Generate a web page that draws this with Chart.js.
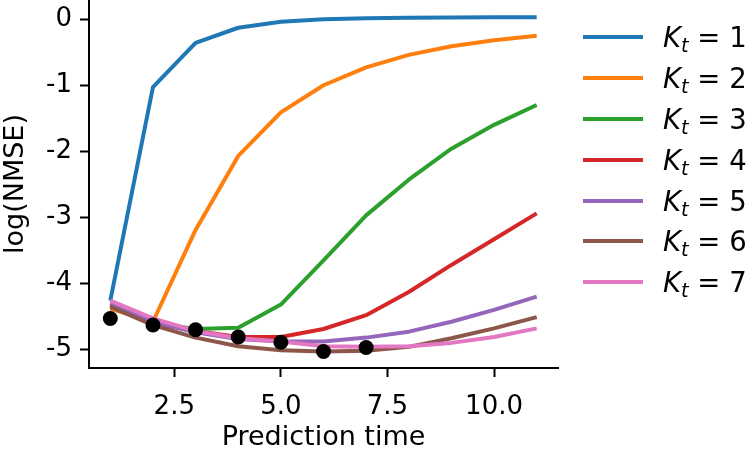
<!DOCTYPE html>
<html>
<head>
<meta charset="utf-8">
<script src="https://cdn.jsdelivr.net/npm/chart.js@4/dist/chart.umd.min.js"></script>
<style>
  html, body { margin: 0; padding: 0; background: #fff; }
  #wrap { position: relative; width: 747px; height: 449px; overflow: hidden; }
  #c { position: absolute; left: 0; top: 0; }
  #legend { position: absolute; left: 0; top: 0; width: 747px; height: 449px; pointer-events: none;
            font-family: "DejaVu Sans", sans-serif; color: #000; }
  .row { position: absolute; left: 583px; height: 40px; display: flex; align-items: center; }
  .sw { width: 60px; height: 4px; margin-right: 20px; }
  .lab { font-size: 27.5px; line-height: 40px; white-space: nowrap; }
  .lab i { font-style: italic; }
  .lab sub { font-size: 0.7em; font-style: italic; vertical-align: -0.25em; line-height: 0; }
</style>
</head>
<body>
<div id="wrap">
  <canvas id="c" width="747" height="449"></canvas>
  <div id="legend"></div>
</div>
<script>
// ---- data ----
const predictionTime = [1, 2, 3, 4, 5, 6, 7, 8, 9, 10, 11];
const kt1 = [-4.26, -1.03, -0.36, -0.13, -0.04, 0.00, 0.015, 0.02, 0.025, 0.03, 0.03];
const kt2 = [-4.38, -4.58, -3.19, -2.07, -1.41, -1.00, -0.73, -0.54, -0.41, -0.32, -0.25];
const kt3 = [-4.33, -4.60, -4.69, -4.67, -4.32, -3.65, -2.97, -2.43, -1.96, -1.60, -1.30];
const kt4 = [-4.33, -4.60, -4.72, -4.81, -4.81, -4.69, -4.48, -4.13, -3.72, -3.33, -2.94];
const kt5 = [-4.30, -4.58, -4.74, -4.84, -4.88, -4.88, -4.82, -4.73, -4.58, -4.40, -4.20];
const kt6 = [-4.35, -4.63, -4.82, -4.95, -5.01, -5.03, -5.02, -4.96, -4.83, -4.68, -4.51];
const kt7 = [-4.26, -4.53, -4.72, -4.83, -4.88, -4.95, -4.96, -4.95, -4.90, -4.81, -4.68];
const bestTime = [1, 2, 3, 4, 5, 6, 7];
const bestValue = [-4.53, -4.63, -4.70, -4.81, -4.89, -5.03, -4.97];
const ktLabels = ["1", "2", "3", "4", "5", "6", "7"];
const xTickValues = [2.5, 5.0, 7.5, 10.0];
const yTickValues = [0, -1, -2, -3, -4, -5];
const colors = ["#1f77b4", "#ff7f0e", "#2ca02c", "#d62728", "#9467bd", "#8c564b", "#e377c2"];

const series = [kt1, kt2, kt3, kt4, kt5, kt6, kt7];
const toPts = (xs, ys) => ys.map((y, i) => ({ x: xs[i], y: y }));

const datasets = series.map((s, i) => ({
  label: "K_t = " + ktLabels[i],
  data: toPts(predictionTime, s),
  borderColor: colors[i],
  backgroundColor: colors[i],
  borderWidth: 4,
  pointRadius: 0,
  fill: false,
  tension: 0,
  borderJoinStyle: "round",
  borderCapStyle: "butt",
  order: series.length - i
}));
datasets.push({
  label: "best",
  data: toPts(bestTime, bestValue),
  showLine: false,
  pointRadius: 7.5,
  pointBackgroundColor: "#000",
  pointBorderColor: "#000",
  pointBorderWidth: 0,
  order: 0
});

const tickFont = { family: "DejaVu Sans", size: 26 };
const titleFont = { family: "DejaVu Sans", size: 27, lineHeight: 0.8 };
const yTitleFont = { family: "DejaVu Sans", size: 27, lineHeight: 1.2 };

new Chart(document.getElementById("c"), {
  type: "line",
  data: { datasets },
  options: {
    responsive: false,
    animation: false,
    events: [],
    layout: { autoPadding: false, padding: { left: 0, top: 0, right: 189, bottom: 0 } },
    plugins: { legend: { display: false }, tooltip: { enabled: false } },
    scales: {
      x: {
        type: "linear",
        min: 0.5, max: 11.5,
        afterBuildTicks: s => { s.ticks = xTickValues.map(v => ({ value: v })); },
        afterFit: s => { s.height = 81; s.paddingLeft = 0; s.paddingRight = 0; },
        ticks: { font: tickFont, color: "#000", padding: 15, maxRotation: 0,
                 callback: v => Number(v).toFixed(1) },
        grid: { drawOnChartArea: false, drawTicks: true, tickLength: 9, tickWidth: 2, tickColor: "#000" },
        border: { display: true, color: "#000", width: 2 },
        title: { display: true, text: "Prediction time", font: titleFont, color: "#000",
                 padding: { top: 0, bottom: 0 } }
      },
      y: {
        type: "linear",
        min: -5.28, max: 0.29,
        afterBuildTicks: s => { s.ticks = yTickValues.map(v => ({ value: v })); },
        afterFit: s => { s.width = 89; s.paddingTop = 0; s.paddingBottom = 0; },
        ticks: { font: tickFont, color: "#000", padding: 8, callback: v => String(v) },
        grid: { drawOnChartArea: false, drawTicks: true, tickLength: 9, tickWidth: 2, tickColor: "#000" },
        border: { display: true, color: "#000", width: 2 },
        title: { display: true, text: "log(NMSE)", font: yTitleFont, color: "#000",
                 padding: { top: 0, bottom: 0 } }
      }
    }
  }
});

// HTML legend built from the series arrays
const legend = document.getElementById("legend");
ktLabels.forEach((k, i) => {
  const row = document.createElement("div");
  row.className = "row";
  row.style.top = (37.3 + i * 40.83 - 20) + "px";
  const sw = document.createElement("div");
  sw.className = "sw";
  sw.style.background = colors[i];
  const lab = document.createElement("span");
  lab.className = "lab";
  lab.innerHTML = "<i>K</i><sub>t</sub> = " + k;
  row.appendChild(sw);
  row.appendChild(lab);
  legend.appendChild(row);
});
</script>
</body>
</html>
